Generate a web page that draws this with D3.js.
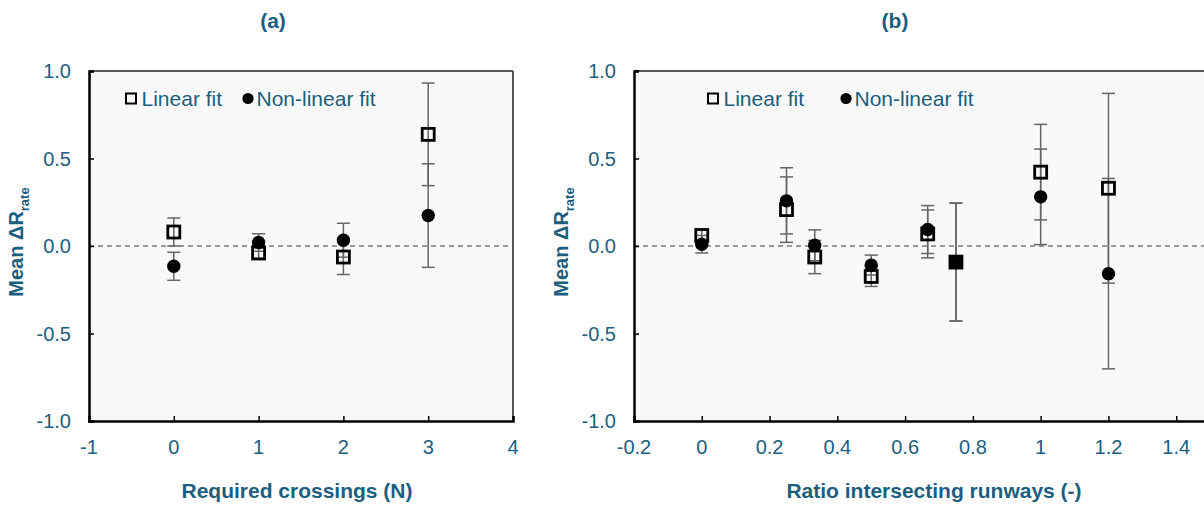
<!DOCTYPE html>
<html>
<head>
<meta charset="utf-8">
<script src="https://cdn.jsdelivr.net/npm/d3@7"></script>
<style>
  html, body { margin: 0; padding: 0; background: #fff; overflow: hidden; }
  svg { display: block; font-family: "Liberation Sans", Arial, sans-serif; }
</style>
</head>
<body>
<svg id="chart" width="1204" height="507"></svg>
<script>
// Panel (a): mean ΔR_rate against the number of required crossings
const crossings = [0, 1, 2, 3];
const crossLinear = [0.08, -0.04, -0.063, 0.638];
const crossLinearErr = [0.08, 0.03, 0.10, 0.293];
const crossNonlinear = [-0.116, 0.02, 0.033, 0.174];
const crossNonlinearErr = [0.08, 0.05, 0.097, 0.296];
const crossTicks = [-1, 0, 1, 2, 3, 4];
const crossTickLabels = ["-1", "0", "1", "2", "3", "4"];

// Panel (b): mean ΔR_rate against the ratio of intersecting runways
const ratios = [0, 0.25, 1 / 3, 0.5, 2 / 3, 0.75, 1.0, 1.2];
const ratioLinear = [0.06, 0.208, -0.063, -0.174, 0.069, -0.092, 0.422, 0.33];
const ratioLinearErr = [0.03, 0.187, 0.095, 0.057, 0.137, 0.337, 0.273, 0.542];
const ratioNonlinear = [0.01, 0.258, 0.004, -0.109, 0.094, -0.092, 0.281, -0.158];
const ratioNonlinearErr = [0.05, 0.189, 0.088, 0.057, 0.137, 0.337, 0.273, 0.544];
const ratioTicks = [-0.2, 0, 0.2, 0.4, 0.6, 0.8, 1, 1.2, 1.4];
const ratioTickLabels = ["-0.2", "0", "0.2", "0.4", "0.6", "0.8", "1", "1.2", "1.4"];

const yTicks = [-1.0, -0.5, 0.0, 0.5, 1.0];
const yTickLabels = ["-1.0", "-0.5", "0.0", "0.5", "1.0"];
const legendLabels = ["Linear fit", "Non-linear fit"];

const textColor = "#1b5e80";
const svg = d3.select("#chart");

function panel(cfg) {
  const x = d3.scaleLinear().domain(cfg.xDomain).range([cfg.left, cfg.right]);
  const y = d3.scaleLinear().domain([-1, 1]).range([421, 71]);
  const g = svg.append("g");

  // plot background
  g.append("rect")
    .attr("x", x.range()[0]).attr("y", y(1))
    .attr("width", x.range()[1] - x.range()[0]).attr("height", y(-1) - y(1))
    .attr("fill", "#f9f9f9");

  // zero reference line
  g.append("line")
    .attr("x1", x.range()[0]).attr("x2", x.range()[1])
    .attr("y1", y(0)).attr("y2", y(0))
    .attr("stroke", "#7a7a7a").attr("stroke-width", 1.5)
    .attr("stroke-dasharray", "5,4");

  // top and right frame
  g.append("line")
    .attr("x1", x.range()[0]).attr("x2", x.range()[1])
    .attr("y1", y(1)).attr("y2", y(1))
    .attr("stroke", "#555").attr("stroke-width", 2);
  g.append("line")
    .attr("x1", x.range()[1]).attr("x2", x.range()[1])
    .attr("y1", y(1)).attr("y2", y(-1))
    .attr("stroke", "#555").attr("stroke-width", 2);

  // axes with inward ticks
  const xAxis = d3.axisTop(x).tickValues(cfg.xTicks).tickSize(5).tickFormat("");
  const gx = g.append("g").attr("transform", `translate(0,${y(-1)})`).call(xAxis);
  gx.select(".domain").attr("stroke", "#000").attr("stroke-width", 2.5);
  gx.selectAll(".tick line").attr("stroke", "#000").attr("stroke-width", 1.5);

  const yAxis = d3.axisRight(y).tickValues(yTicks).tickSize(5).tickFormat("");
  const gy = g.append("g").attr("transform", `translate(${x.range()[0]},0)`).call(yAxis);
  gy.select(".domain").attr("stroke", "#000").attr("stroke-width", 2.5);
  gy.selectAll(".tick line").attr("stroke", "#000").attr("stroke-width", 1.5);

  // tick labels
  g.selectAll(".xlab").data(cfg.xTicks).enter().append("text")
    .attr("x", d => x(d)).attr("y", 453.5)
    .attr("text-anchor", "middle").attr("font-size", 20).attr("fill", textColor)
    .text((d, i) => cfg.xLabels[i]);
  g.selectAll(".ylab").data(yTicks).enter().append("text")
    .attr("x", x.range()[0] - 18).attr("y", d => y(d) + 7)
    .attr("text-anchor", "end").attr("font-size", 20).attr("fill", textColor)
    .text((d, i) => yTickLabels[i]);

  // axis titles
  g.append("text")
    .attr("x", cfg.xTitleX).attr("y", 497.5)
    .attr("text-anchor", "middle").attr("font-size", 21).attr("font-weight", "bold")
    .attr("fill", textColor).text(cfg.xTitle);
  const yt = g.append("text")
    .attr("transform", `translate(${x.range()[0] - 66},242) rotate(-90)`)
    .attr("text-anchor", "middle").attr("font-size", 20).attr("font-weight", "bold")
    .attr("fill", textColor);
  yt.append("tspan").text("Mean \u0394R");
  yt.append("tspan").attr("font-size", 13).attr("dy", 6).text("rate");

  // panel title
  g.append("text")
    .attr("x", cfg.titleX).attr("y", 28)
    .attr("text-anchor", "middle").attr("font-size", 21).attr("font-weight", "bold")
    .attr("fill", textColor).text(cfg.title);

  // error bars
  const bars = [];
  cfg.xs.forEach((xv, i) => {
    bars.push({ x: xv, v: cfg.lin[i], e: cfg.linErr[i] });
    bars.push({ x: xv, v: cfg.non[i], e: cfg.nonErr[i] });
  });
  const eb = g.append("g").attr("stroke", "#666").attr("stroke-width", 1.5);
  bars.forEach(b => {
    const cx = x(b.x);
    eb.append("line").attr("x1", cx).attr("x2", cx)
      .attr("y1", y(b.v + b.e)).attr("y2", y(b.v - b.e));
    [b.v + b.e, b.v - b.e].forEach(t => {
      eb.append("line").attr("x1", cx - 6.5).attr("x2", cx + 6.5)
        .attr("y1", y(t)).attr("y2", y(t));
    });
  });

  // linear fit: open squares
  g.selectAll(".sq").data(cfg.xs).enter().append("rect")
    .attr("x", (d, i) => x(d) - 6).attr("y", (d, i) => y(cfg.lin[i]) - 6)
    .attr("width", 12).attr("height", 12)
    .attr("fill", "none").attr("stroke", "#000").attr("stroke-width", 2.8);

  // non-linear fit: filled circles
  g.selectAll(".ci").data(cfg.xs).enter().append("circle")
    .attr("cx", d => x(d)).attr("cy", (d, i) => y(cfg.non[i]))
    .attr("r", 6.7).attr("fill", "#000");

  // legend
  const lg = g.append("g");
  lg.append("rect").attr("x", cfg.legX - 5).attr("y", 93.5).attr("width", 10).attr("height", 10)
    .attr("fill", "none").attr("stroke", "#000").attr("stroke-width", 2);
  lg.append("text").attr("x", cfg.legX + 10.5).attr("y", 106)
    .attr("font-size", 21).attr("fill", textColor).text(legendLabels[0]);
  lg.append("circle").attr("cx", cfg.legX2).attr("cy", 98.5).attr("r", 5.6).attr("fill", "#000");
  lg.append("text").attr("x", cfg.legX2 + 8.5).attr("y", 106)
    .attr("font-size", 21).attr("fill", textColor).text(legendLabels[1]);
}

panel({
  xDomain: [-1, 4], left: 89, right: 513, xTicks: crossTicks, xLabels: crossTickLabels,
  xs: crossings, lin: crossLinear, linErr: crossLinearErr,
  non: crossNonlinear, nonErr: crossNonlinearErr,
  xTitle: "Required crossings (N)", xTitleX: 297,
  title: "(a)", titleX: 273, legX: 131, legX2: 248
});

panel({
  xDomain: [-0.2, 1.6], left: 634, right: 1244, xTicks: ratioTicks, xLabels: ratioTickLabels,
  xs: ratios, lin: ratioLinear, linErr: ratioLinearErr,
  non: ratioNonlinear, nonErr: ratioNonlinearErr,
  xTitle: "Ratio intersecting runways (-)", xTitleX: 934,
  title: "(b)", titleX: 895, legX: 713, legX2: 846
});
</script>
</body>
</html>
